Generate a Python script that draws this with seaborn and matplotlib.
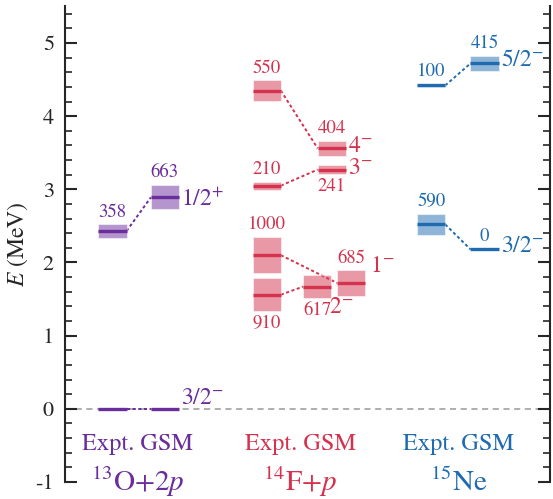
import matplotlib
matplotlib.use("Agg")
import matplotlib.pyplot as plt
from matplotlib.patches import Rectangle
from matplotlib.ticker import MultipleLocator
import seaborn as sns

# ---------------------------
# Level data (energies in MeV, widths in keV)
# ---------------------------
o13_expt_E = [0.0, 2.43]
o13_expt_G = [None, 358]
o13_gsm_E = [0.0, 2.89]
o13_gsm_G = [None, 663]
o13_spins = [r"$3/2^{-}$", r"$1/2^{+}$"]

f14_expt_E = [1.56, 2.10, 3.05, 4.35]
f14_expt_G = [910, 1000, 210, 550]
f14_gsm_E = [1.67, 1.72, 3.27, 3.56]
f14_gsm_G = [617, 685, 241, 404]
f14_spins = [r"$2^{-}$", r"$1^{-}$", r"$3^{-}$", r"$4^{-}$"]

ne15_expt_E = [2.52, 4.42]
ne15_expt_G = [590, 100]
ne15_gsm_E = [2.18, 4.72]
ne15_gsm_G = [0, 415]
ne15_spins = [r"$3/2^{-}$", r"$5/2^{-}$"]

# (expt index, gsm index) pairs joined by dotted lines
o13_links = [(0, 0), (1, 1)]
f14_links = [(0, 0), (1, 1), (2, 2), (3, 3)]
ne15_links = [(0, 0), (1, 1)]

# ---------------------------
# Layout / style
# ---------------------------
sns.set_style("ticks")
plt.rcParams["font.family"] = ["STIXGeneral", "DejaVu Serif"]
plt.rcParams["mathtext.fontset"] = "stix"
plt.rcParams["axes.unicode_minus"] = False

purple = "#6a2d9c"
red = "#d5324e"
blue = "#1f6bb0"
HW = 0.29  # half width of a level bar (x units)

fig = plt.figure(figsize=(5.53, 4.99), dpi=100)
ax = fig.add_axes([65 / 553, 1 - 482 / 499, 485 / 553, (482 - 6.4) / 499])
ax.set_xlim(0, 10)
ax.set_ylim(-1, 5.5)


def draw_level(x, E, G, color, label_side="above", show_width=True):
    if G:
        h = G / 4000.0
        ax.add_patch(Rectangle((x - HW, E - h), 2 * HW, 2 * h, facecolor=color,
                               alpha=0.5, edgecolor="white", lw=0.8, zorder=2))
    else:
        h = 0.0
    ax.plot([x - HW, x + HW], [E, E], color=color, lw=2.4, solid_capstyle="butt", zorder=3)
    if show_width and G is not None:
        y = E + h + 0.17 if label_side == "above" else E - h - 0.17
        ax.text(x, y, str(G), color=color, fontsize=13.5, ha="center", va="center")


def link(x1, E1, x2, E2, color):
    ax.plot([x1 + HW, x2 - HW], [E1, E2], color=color, lw=1.4,
            linestyle=(0, (1.6, 1.3)), zorder=1)


# 13O + 2p
o13_x = (0.98, 2.06)
for E, G in zip(o13_expt_E, o13_expt_G):
    draw_level(o13_x[0], E, G, purple)
for E, G in zip(o13_gsm_E, o13_gsm_G):
    draw_level(o13_x[1], E, G, purple)
for i, j in o13_links:
    link(o13_x[0], o13_expt_E[i], o13_x[1], o13_gsm_E[j], purple)
o13_spin_dy = [0.15, -0.03]
for E, s, dy in zip(o13_gsm_E, o13_spins, o13_spin_dy):
    ax.text(o13_x[1] + HW + 0.04, E + dy, s, color=purple, fontsize=17, ha="left", va="center")

# 14F + p
f14_expt_x = 4.16
f14_gsm_x = [5.2, 5.9, 5.5, 5.5]
f14_gsm_side = ["below", "above", "below", "above"]
f14_expt_side = ["below", "above", "above", "above"]
for E, G, side in zip(f14_expt_E, f14_expt_G, f14_expt_side):
    draw_level(f14_expt_x, E, G, red, side)
for x, E, G, side in zip(f14_gsm_x, f14_gsm_E, f14_gsm_G, f14_gsm_side):
    draw_level(x, E, G, red, side)
for i, j in f14_links:
    link(f14_expt_x, f14_expt_E[i], f14_gsm_x[j], f14_gsm_E[j], red)
f14_spin_dx = [-0.05, 0.1, 0.04, 0.04]
f14_spin_dy = [-0.28, 0.23, 0.02, 0.03]
for x, E, s, dx, dy in zip(f14_gsm_x, f14_gsm_E, f14_spins, f14_spin_dx, f14_spin_dy):
    ax.text(x + HW + dx, E + dy, s, color=red, fontsize=17, ha="left", va="center")

# 15Ne
ne15_x = (7.55, 8.65)
for E, G in zip(ne15_expt_E, ne15_expt_G):
    draw_level(ne15_x[0], E, G, blue)
for E, G in zip(ne15_gsm_E, ne15_gsm_G):
    draw_level(ne15_x[1], E, G, blue)
for i, j in ne15_links:
    link(ne15_x[0], ne15_expt_E[i], ne15_x[1], ne15_gsm_E[j], blue)
for E, s in zip(ne15_gsm_E, ne15_spins):
    ax.text(ne15_x[1] + HW + 0.04, E + 0.04, s, color=blue, fontsize=17, ha="left", va="center")

# zero line
ax.axhline(0, color="#999999", lw=1.1, linestyle=(0, (4, 3)), zorder=0)

# bottom labels
groups = [("$^{13}$O+2$p$", 1.5, purple), ("$^{14}$F+$p$", 4.85, red), ("$^{15}$Ne", 8.12, blue)]
for name, xc, color in groups:
    ax.text(xc, -0.56, "Expt. GSM", color=color, fontsize=17.5, ha="center", va="baseline")
    ax.text(xc, -1.12, name, color=color, fontsize=21, ha="center", va="baseline")

# axes styling
sns.despine(ax=ax, top=True, bottom=True, left=False, right=False)
for side in ("left", "right"):
    ax.spines[side].set_linewidth(1.5)
ax.set_xticks([])
ax.yaxis.set_major_locator(MultipleLocator(1))
ax.yaxis.set_minor_locator(MultipleLocator(0.2))
ax.tick_params(axis="y", which="both", direction="in", left=True, right=True,
               labelright=False, labelsize=16, pad=8)
ax.tick_params(axis="y", which="major", length=8.5, width=1.5)
ax.tick_params(axis="y", which="minor", length=5, width=1.2)
ax.set_ylabel(r"$E$ (MeV)", fontsize=17, va="center")
ax.yaxis.set_label_coords(-0.097, 0.5)

fig.savefig("out.png", dpi=100)
